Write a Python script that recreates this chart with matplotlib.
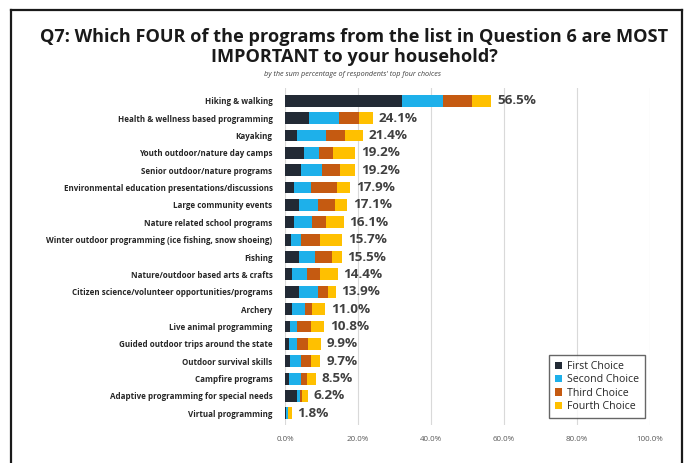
import matplotlib.pyplot as plt
import numpy as np
from matplotlib.lines import Line2D

plt.rcParams['font.family'] = ['Open Sans', 'DejaVu Sans']

programs = [
    "Hiking & walking",
    "Health & wellness based programming",
    "Kayaking",
    "Youth outdoor/nature day camps",
    "Senior outdoor/nature programs",
    "Environmental education presentations/discussions",
    "Large community events",
    "Nature related school programs",
    "Winter outdoor programming (ice fishing, snow shoeing)",
    "Fishing",
    "Nature/outdoor based arts & crafts",
    "Citizen science/volunteer opportunities/programs",
    "Archery",
    "Live animal programming",
    "Guided outdoor trips around the state",
    "Outdoor survival skills",
    "Campfire programs",
    "Adaptive programming for special needs",
    "Virtual programming",
]

first_choice = [32.1, 6.7, 3.4, 5.3, 4.4, 2.6, 3.7, 2.6, 1.6, 3.9, 2.0, 3.8, 2.0, 1.4, 1.1, 1.4, 1.1, 3.2, 0.2]
second_choice = [11.3, 8.1, 7.7, 4.1, 5.8, 4.5, 5.4, 4.9, 2.8, 4.3, 3.9, 5.3, 3.5, 1.8, 2.1, 3.0, 3.2, 0.9, 0.5]
third_choice = [7.7, 5.5, 5.3, 3.8, 4.9, 7.1, 4.6, 3.7, 5.2, 4.6, 3.7, 2.6, 1.8, 3.8, 3.0, 2.6, 1.6, 0.5, 0.2]
fourth_choice = [5.4, 3.8, 5.0, 6.0, 4.1, 3.7, 3.4, 4.9, 6.1, 2.7, 4.8, 2.2, 3.7, 3.8, 3.7, 2.7, 2.6, 1.6, 0.9]
totals = [56.5, 24.1, 21.4, 19.2, 19.2, 17.9, 17.1, 16.1, 15.7, 15.5, 14.4, 13.9, 11.0, 10.8, 9.9, 9.7, 8.5, 6.2, 1.8]

series = [
    ("First Choice", first_choice, "#222a35"),
    ("Second Choice", second_choice, "#1eb0ea"),
    ("Third Choice", third_choice, "#c55a11"),
    ("Fourth Choice", fourth_choice, "#ffc000"),
]

x_ticks = [0, 20, 40, 60, 80, 100]

W, H = 688, 463
fig = plt.figure(figsize=(W / 100, H / 100), dpi=100)
fig.patch.set_facecolor("white")

# outer frame: top, left and right edges (open at the bottom)
fx0, fx1, fy0 = 11 / W, 682 / W, 1 - 10 / H
frame_style = dict(transform=fig.transFigure, color="#1a1a1a", linewidth=1.6)
fig.lines.extend([
    Line2D([fx0, fx1], [fy0, fy0], **frame_style),
    Line2D([fx0, fx0], [0, fy0], **frame_style),
    Line2D([fx1, fx1], [0, fy0], **frame_style),
])

ax = fig.add_axes([285 / W, 1 - 425 / H, (650 - 285) / W, (425 - 88) / H])

y = np.arange(len(programs))
left = np.zeros(len(programs))
for name, vals, color in series:
    vals = np.array(vals)
    ax.barh(y, vals, left=left, height=0.68, color=color, label=name, zorder=3)
    left += vals

for yi, total in zip(y, totals):
    ax.text(total + 1.6, yi, f"{total:.1f}%", va="center", ha="left",
            fontsize=9.7, fontweight="bold", color="#404040", zorder=4)

ax.set_xlim(0, 100)
ax.set_ylim(len(programs) - 0.33, -0.73)
ax.set_yticks(y)
ax.set_yticklabels(programs, fontsize=5.8, fontweight="bold", color="#262626")
ax.set_xticks(x_ticks)
ax.set_xticklabels([f"{t:.1f}%" for t in x_ticks], fontsize=5.8, color="#595959")
ax.tick_params(axis="both", length=0)
ax.tick_params(axis="y", pad=9)
ax.tick_params(axis="x", pad=8)
for s in ax.spines.values():
    s.set_visible(False)
ax.grid(axis="x", color="#d9d9d9", linewidth=0.8, zorder=0)
ax.set_axisbelow(True)

leg = ax.legend(loc="lower right", bbox_to_anchor=(0.995, 0.01), fontsize=7.6,
                frameon=True, fancybox=False, edgecolor="#404040",
                handlelength=0.7, handleheight=0.7, handletextpad=0.4,
                labelspacing=0.22, borderpad=0.6, borderaxespad=0.3)
leg.get_frame().set_linewidth(1.0)
for t in leg.get_texts():
    t.set_color("#262626")

fig.text(354 / W, 1 - 37 / H, "Q7: Which FOUR of the programs from the list in Question 6 are MOST",
         ha="center", va="center", fontsize=13.1, fontweight="bold", color="#1a1a1a")
fig.text(354 / W, 1 - 57 / H, "IMPORTANT to your household?",
         ha="center", va="center", fontsize=13.1, fontweight="bold", color="#1a1a1a")
fig.text(352 / W, 1 - 74 / H, "by the sum percentage of respondents' top four choices",
         ha="center", va="center", fontsize=5.2, style="italic", color="#404040")

fig.savefig("out.png", dpi=100, facecolor="white")
